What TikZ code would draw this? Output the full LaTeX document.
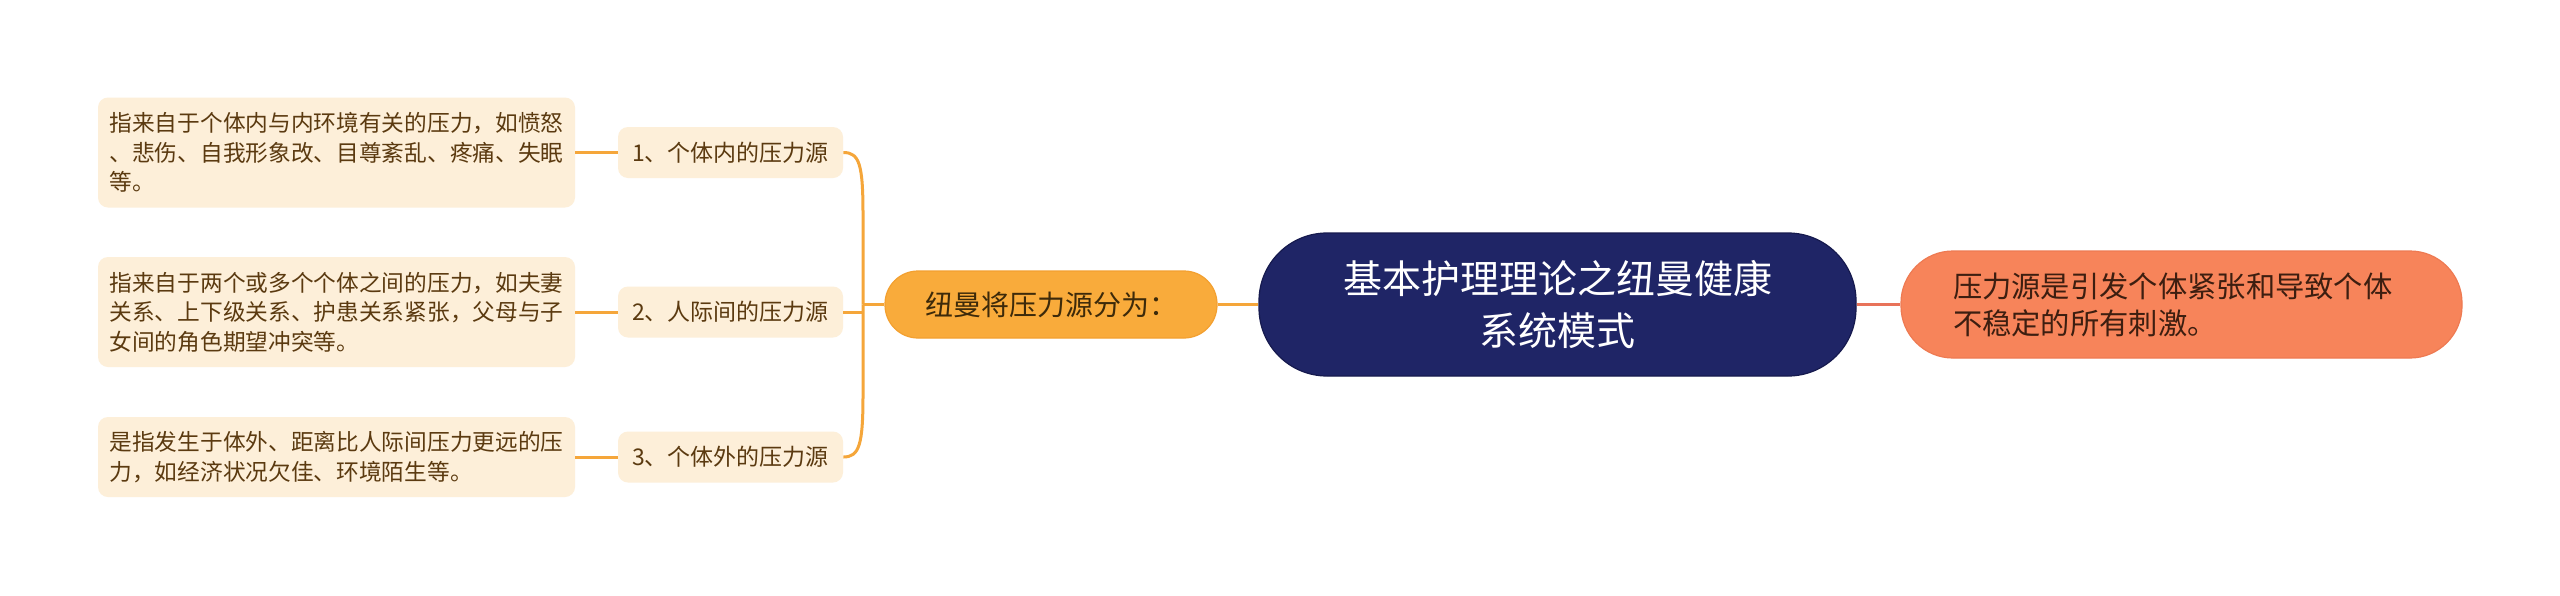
\documentclass[tikz,border=0pt]{standalone}
\usepackage{fontspec}
\setmainfont{Noto Sans CJK SC}
\usetikzlibrary{calc}
\definecolor{leaffill}{HTML}{FDEFD9}
\definecolor{leaftext}{HTML}{5B3A10}
\definecolor{linkor}{HTML}{F5A63A}
\definecolor{orfill}{HTML}{F9AB3B}
\definecolor{ordraw}{HTML}{F3A030}
\definecolor{ortext}{HTML}{3D2A0A}
\definecolor{cenfill}{HTML}{1F2566}
\definecolor{cendraw}{HTML}{161A4E}
\definecolor{rfill}{HTML}{F7845A}
\definecolor{rdraw}{HTML}{EE7A52}
\definecolor{rtext}{HTML}{3D1E10}
\definecolor{rlink}{HTML}{E8735A}
\tikzset{
  leafbox/.style={rectangle, rounded corners=5pt, fill=leaffill, text=leaftext,
    font=\fontsize{11.35pt}{14.75pt}\selectfont, align=left, text width=227pt,
    inner xsep=5.75pt, inner ysep=0pt, minimum height=#1},
  midbox/.style={rectangle, rounded corners=5pt, fill=leaffill, text=leaftext,
    font=\fontsize{11.5pt}{14pt}\selectfont, minimum width=112.5pt, minimum height=25.5pt, inner sep=0pt},
  orbox/.style={rectangle, rounded corners=16.5pt, fill=orfill, draw=ordraw, line width=0.6pt, text=ortext,
    font=\fontsize{14pt}{17pt}\selectfont, minimum width=166pt, minimum height=33.5pt, inner sep=0pt},
  cenbox/.style={rectangle, rounded corners=34pt, fill=cenfill, draw=cendraw, line width=0.6pt, text=white,
    font=\fontsize{19.5pt}{26pt}\selectfont, align=center, minimum width=298.5pt, minimum height=71.5pt, inner sep=0pt},
  rbox/.style={rectangle, rounded corners=26pt, fill=rfill, draw=rdraw, line width=0.6pt, text=rtext,
    font=\fontsize{14.65pt}{18.5pt}\selectfont, align=left, text width=228.5pt, inner xsep=26pt,
    minimum height=53.5pt, inner ysep=0pt},
  orlink/.style={draw=linkor, line width=1.5pt},
  redlink/.style={draw=rlink, line width=1.5pt}
}
\begin{document}
\begin{tikzpicture}[x=0.5pt,y=-0.5pt]
\useasboundingbox[fill=white] (0,0) rectangle (2560,595);
% nodes
\node[cenbox] (cen) at (1557.5,304.5) {基本护理理论之纽曼健康\\系统模式};
\node[rbox] (rt) at (2181.5,304.5) {压力源是引发个体紧张和导致个体\\不稳定的所有刺激。};
\node[orbox] (or) at (1051,304.5) {纽曼将压力源分为：};
\node[midbox] (m1) at (730.5,152.5) {1、个体内的压力源};
\node[midbox] (m2) at (730.5,312) {2、人际间的压力源};
\node[midbox] (m3) at (730.5,457) {3、个体外的压力源};
\node[leafbox=55pt] (l1) at (336.5,152.5) {指来自于个体内与内环境有关的压力，如愤怒\\、悲伤、自我形象改、目尊紊乱、疼痛、失眠\\等。};
\node[leafbox=55pt] (l2) at (336.5,312) {指来自于两个或多个个体之间的压力，如夫妻\\关系、上下级关系、护患关系紧张，父母与子\\女间的角色期望冲突等。};
\node[leafbox=40pt] (l3) at (336.5,457) {是指发生于体外、距离比人际间压力更远的压\\力，如经济状况欠佳、环境陌生等。};
% connectors
\coordinate (j) at (863,304.5);
\draw[redlink] (cen.east) -- (rt.west);
\draw[orlink] (or.east) -- (cen.west);
\draw[orlink] (j) -- (or.west);
\draw[orlink] (m1.east) .. controls +(16,0) and +(0,-50) .. ($(j)+(0,-90)$) -- (j);
\draw[orlink] (m3.east) .. controls +(16,0) and +(0,50) .. ($(j)+(0,90)$) -- (j);
\draw[orlink] (m2.east) -- (m2.east -| j);
\draw[orlink] (l1.east) -- (m1.west);
\draw[orlink] (l2.east) -- (m2.west);
\draw[orlink] (l3.east) -- (m3.west);
\end{tikzpicture}
\end{document}
